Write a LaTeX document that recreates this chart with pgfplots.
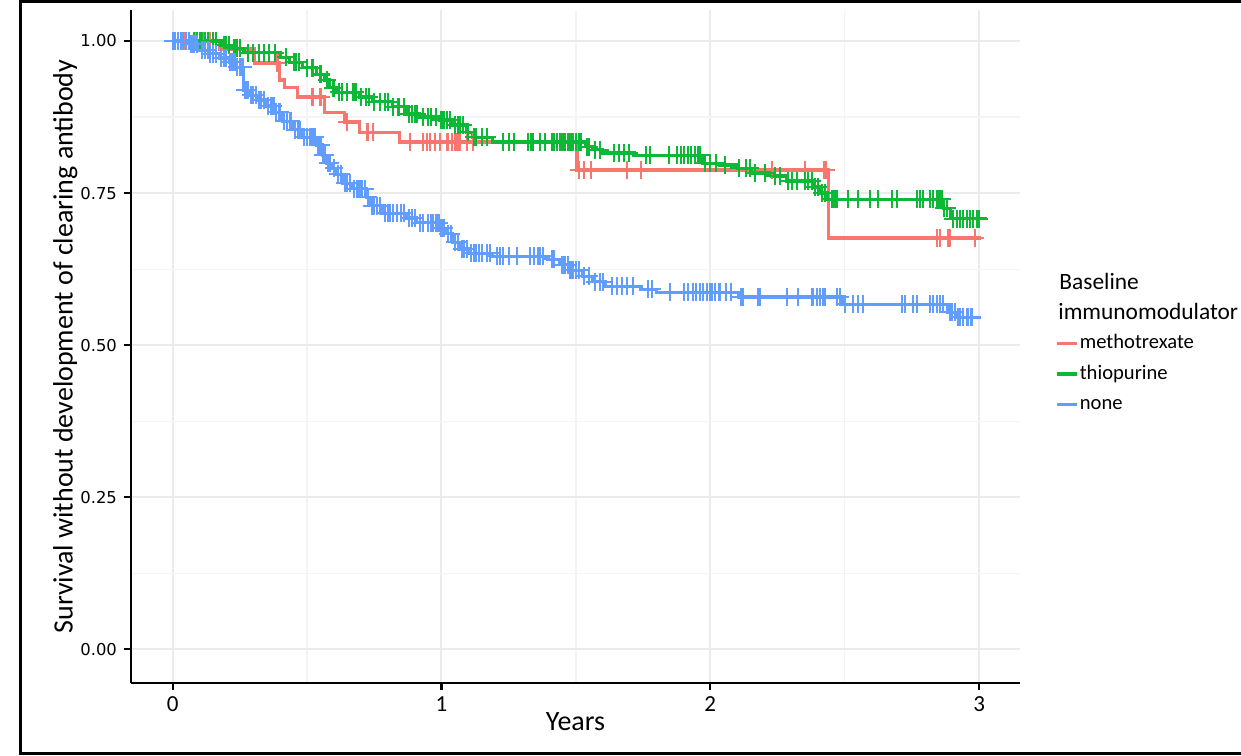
\documentclass[border=0pt]{standalone}
\usepackage{fontspec}
\setmainfont{Carlito}
\newfontfamily\djv{DejaVu Sans}
\usepackage{pgfplots}
\pgfplotsset{compat=1.18}
\definecolor{cred}{HTML}{F8766D}
\definecolor{cgreen}{HTML}{0DB837}
\definecolor{cblue}{HTML}{619CFF}
\definecolor{gmaj}{HTML}{EBEBEB}
\definecolor{gmin}{HTML}{F4F4F4}
\begin{document}
\begin{tikzpicture}
\useasboundingbox (0,0) rectangle (620.5pt,377.5pt);
\fill[white] (0,0) rectangle (620.5pt,377.5pt);
\draw[line width=1.65pt] (10.25pt,0.85pt) rectangle (660pt,376.65pt);
\begin{axis}[
  at={(65.5pt,36pt)}, anchor=south west,
  scale only axis, width=444.5pt, height=336.5pt,
  xmin=-0.155, xmax=3.152, ymin=-0.0555, ymax=1.051,
  axis x line=bottom, axis y line=left,
  axis line style={-, line width=1.4pt, black},
  xtick={0,1,2,3}, ytick={0,0.25,0.5,0.75,1},
  yticklabels={0.00,0.25,0.50,0.75,1.00},
  minor xtick={0.5,1.5,2.5}, minor ytick={0.125,0.375,0.625,0.875},
  grid=both,
  major grid style={gmaj, line width=1pt},
  minor grid style={gmin, line width=0.6pt},
  tick align=outside, major tick length=3.5pt, minor tick length=0pt,
  tick style={black, line width=1.1pt},
  /pgf/number format/assume math mode=true,
  xticklabel style={font=\fontsize{11.5}{12}\selectfont},
  yticklabel style={font=\djv\fontsize{8.2}{9}\selectfont},
  xlabel={Years},
  every axis x label/.style={at={(axis description cs:0.5,-0.058)}, anchor=center, font=\fontsize{14}{16}\selectfont},
  ylabel={Survival without development of clearing antibody},
  every axis y label/.style={at={(axis description cs:-0.074,0.5)}, anchor=center, rotate=90, font=\fontsize{14}{16}\selectfont},
  legend style={at={(axis description cs:1.0394,0.52)}, anchor=north west, draw=none, fill=none, inner sep=0pt,
    font=\fontsize{10.3}{12}\selectfont, row sep=5pt, nodes={inner sep=0.6pt, text height=7pt, text depth=2pt}},
  legend cell align=left,
  legend image code/.code={\draw[line width=1.6pt] (0pt,0pt) -- (10pt,0pt);},
]
\addplot[const plot, cred, line width=1.6pt] coordinates {
(0,1) (0.175,0.987) (0.305,0.964) (0.398,0.936) (0.417,0.923) (0.465,0.908) (0.566,0.883) (0.640,0.867) (0.696,0.850) (0.845,0.834) (1.504,0.788) (2.441,0.676) (3.007,0.676)};
\addlegendentry{methotrexate}
\addplot[const plot, cgreen, line width=1.6pt] coordinates {
(0,1) (0.18,0.993) (0.22,0.988) (0.265,0.981) (0.40,0.973) (0.435,0.965) (0.484,0.956) (0.536,0.945) (0.566,0.936) (0.584,0.923) (0.610,0.916) (0.696,0.908) (0.744,0.900) (0.819,0.892) (0.871,0.880) (0.919,0.875) (0.994,0.870) (1.042,0.862) (1.094,0.850) (1.116,0.842) (1.191,0.834) (1.537,0.826) (1.563,0.821) (1.600,0.816) (1.716,0.812) (1.972,0.799) (2.036,0.796) (2.103,0.791) (2.151,0.783) (2.229,0.778) (2.285,0.770) (2.382,0.760) (2.408,0.750) (2.434,0.740) (2.866,0.725) (2.892,0.708) (3.029,0.708)};
\addlegendentry{thiopurine}
\addplot[const plot, cblue, line width=1.6pt] coordinates {
(0,1) (0.063,0.995) (0.100,0.985) (0.138,0.979) (0.175,0.972) (0.212,0.965) (0.238,0.957) (0.264,0.919) (0.287,0.911) (0.313,0.903) (0.350,0.893) (0.380,0.883) (0.409,0.868) (0.447,0.854) (0.484,0.842) (0.536,0.829) (0.558,0.812) (0.573,0.799) (0.592,0.791) (0.610,0.781) (0.633,0.766) (0.670,0.757) (0.722,0.743) (0.733,0.729) (0.782,0.717) (0.871,0.709) (0.908,0.701) (0.994,0.692) (1.020,0.683) (1.042,0.669) (1.068,0.658) (1.105,0.651) (1.191,0.646) (1.396,0.641) (1.440,0.632) (1.474,0.623) (1.526,0.613) (1.563,0.604) (1.608,0.597) (1.742,0.592) (1.801,0.587) (2.106,0.579) (2.490,0.567) (2.884,0.554) (2.914,0.546) (3.007,0.546)};
\addlegendentry{none}
% censoring marks
\addplot[only marks, mark=+, mark size=4.5pt, cred, mark options={line width=1.05pt}, forget plot] coordinates {
(0.045,1) (0.082,1) (0.112,1) (0.138,1)
(0.39,0.964)
(0.52,0.908) (0.55,0.908)
(0.65,0.867)
(0.722,0.850) (0.726,0.850) (0.744,0.850)
(0.882,0.834) (0.93,0.834) (0.945,0.834) (0.957,0.834) (0.975,0.834) (0.993,0.834) (1.019,0.834) (1.023,0.834) (1.038,0.834) (1.049,0.834) (1.056,0.834) (1.067,0.834) (1.094,0.834) (1.116,0.834)
(1.511,0.788) (1.530,0.788) (1.556,0.788) (1.690,0.788) (1.742,0.788) (2.229,0.788) (2.352,0.788) (2.423,0.788) (2.430,0.788)
(2.843,0.676) (2.854,0.676) (2.884,0.676) (2.891,0.676) (2.985,0.676)};
\addplot[only marks, mark=+, mark size=4.5pt, cgreen, mark options={line width=1.05pt}, forget plot] coordinates {
(0.0,1) (0.02,1) (0.04,1) (0.05,1) (0.06,1) (0.08,1) (0.09,1) (0.10,1) (0.11,1) (0.12,1) (0.13,1) (0.15,1) (0.16,1)
(0.19,0.993) (0.20,0.993) (0.21,0.993)
(0.23,0.988) (0.24,0.988) (0.25,0.988)
(0.28,0.981) (0.30,0.981) (0.32,0.981) (0.34,0.981) (0.36,0.981) (0.38,0.981)
(0.42,0.973)
(0.45,0.965) (0.46,0.965) (0.47,0.965)
(0.50,0.956) (0.52,0.956)
(0.55,0.945)
(0.575,0.936)
(0.595,0.923) (0.60,0.923)
(0.62,0.916) (0.63,0.916) (0.65,0.916) (0.67,0.916) (0.68,0.916)
(0.70,0.908) (0.72,0.908) (0.73,0.908)
(0.75,0.900) (0.77,0.900) (0.79,0.900) (0.80,0.900)
(0.82,0.892) (0.84,0.892) (0.86,0.892)
(0.88,0.880) (0.89,0.880) (0.90,0.880) (0.91,0.880)
(0.93,0.875) (0.95,0.875) (0.96,0.875) (0.98,0.875)
(1.0,0.870) (1.01,0.870) (1.02,0.870) (1.03,0.870)
(1.05,0.862) (1.06,0.862) (1.07,0.862) (1.08,0.862)
(1.10,0.850)
(1.12,0.842) (1.13,0.842) (1.15,0.842) (1.17,0.842)
(1.228,0.834) (1.250,0.834) (1.269,0.834) (1.321,0.834) (1.332,0.834) (1.340,0.834) (1.366,0.834) (1.384,0.834) (1.41,0.834) (1.42,0.834) (1.43,0.834) (1.44,0.834) (1.45,0.834) (1.46,0.834) (1.47,0.834) (1.48,0.834) (1.49,0.834) (1.50,0.834) (1.51,0.834) (1.52,0.834)
(1.54,0.826) (1.55,0.826)
(1.57,0.821) (1.59,0.821)
(1.641,0.816) (1.66,0.816) (1.678,0.816) (1.697,0.816)
(1.760,0.812) (1.775,0.812) (1.846,0.812) (1.876,0.812) (1.891,0.812) (1.902,0.812) (1.917,0.812) (1.928,0.812) (1.943,0.812) (1.954,0.812) (1.961,0.812)
(1.98,0.799) (2.0,0.799) (2.02,0.799)
(2.056,0.796)
(2.106,0.791) (2.132,0.791) (2.147,0.791)
(2.166,0.783) (2.203,0.783)
(2.24,0.778) (2.26,0.778)
(2.289,0.770) (2.304,0.770) (2.322,0.770) (2.352,0.770) (2.363,0.770) (2.378,0.770)
(2.39,0.760) (2.40,0.760)
(2.415,0.750) (2.425,0.750)
(2.451,0.740) (2.456,0.740) (2.464,0.740) (2.471,0.740) (2.512,0.740) (2.549,0.740) (2.594,0.740) (2.624,0.740) (2.676,0.740) (2.694,0.740) (2.769,0.740) (2.780,0.740) (2.791,0.740) (2.817,0.740) (2.828,0.740) (2.843,0.740) (2.847,0.740) (2.854,0.740) (2.862,0.740)
(2.87,0.725) (2.88,0.725)
(2.903,0.708) (2.918,0.708) (2.929,0.708) (2.94,0.708) (2.955,0.708) (2.966,0.708) (2.977,0.708) (2.992,0.708) (3.0,0.708)};
\addplot[only marks, mark=+, mark size=4.5pt, cblue, mark options={line width=1.05pt}, forget plot] coordinates {
(0.0,1) (0.01,1) (0.02,1) (0.03,1) (0.04,1) (0.05,1) (0.06,1)
(0.07,0.995) (0.08,0.995) (0.09,0.995)
(0.11,0.985) (0.12,0.985) (0.13,0.985)
(0.14,0.979) (0.15,0.979) (0.16,0.979)
(0.18,0.972) (0.19,0.972) (0.20,0.972)
(0.215,0.965) (0.225,0.965) (0.23,0.965)
(0.24,0.957) (0.25,0.957) (0.255,0.957) (0.26,0.957)
(0.27,0.919) (0.275,0.919) (0.28,0.919)
(0.29,0.911) (0.30,0.911) (0.31,0.911)
(0.32,0.903) (0.33,0.903) (0.34,0.903)
(0.355,0.893) (0.365,0.893) (0.375,0.893)
(0.385,0.883) (0.395,0.883) (0.40,0.883)
(0.415,0.868) (0.425,0.868) (0.435,0.868) (0.44,0.868)
(0.455,0.854) (0.465,0.854) (0.475,0.854)
(0.49,0.842) (0.50,0.842) (0.51,0.842) (0.52,0.842) (0.53,0.842)
(0.54,0.829) (0.55,0.829)
(0.56,0.812) (0.565,0.812)
(0.578,0.799) (0.585,0.799)
(0.60,0.791)
(0.615,0.781) (0.625,0.781)
(0.64,0.766) (0.65,0.766) (0.66,0.766)
(0.675,0.757) (0.685,0.757) (0.695,0.757) (0.705,0.757) (0.715,0.757)
(0.725,0.743)
(0.74,0.729) (0.75,0.729) (0.76,0.729) (0.77,0.729)
(0.79,0.717) (0.80,0.717) (0.81,0.717) (0.82,0.717) (0.835,0.717) (0.85,0.717) (0.86,0.717)
(0.88,0.709) (0.89,0.709) (0.90,0.709)
(0.92,0.701) (0.93,0.701) (0.95,0.701) (0.96,0.701) (0.97,0.701) (0.98,0.701) (0.985,0.701) (0.99,0.701)
(1.0,0.692) (1.01,0.692)
(1.025,0.683) (1.035,0.683)
(1.05,0.669) (1.06,0.669)
(1.075,0.658) (1.085,0.658) (1.095,0.658)
(1.11,0.651) (1.12,0.651) (1.13,0.651) (1.14,0.651) (1.15,0.651) (1.17,0.651) (1.18,0.651)
(1.206,0.646) (1.217,0.646) (1.228,0.646) (1.25,0.646) (1.28,0.646) (1.329,0.646) (1.344,0.646) (1.358,0.646) (1.366,0.646) (1.377,0.646)
(1.41,0.641) (1.42,0.641)
(1.45,0.632) (1.46,0.632) (1.47,0.632)
(1.48,0.623) (1.49,0.623) (1.50,0.623) (1.51,0.623)
(1.53,0.613) (1.55,0.613)
(1.57,0.604) (1.59,0.604) (1.60,0.604)
(1.634,0.597) (1.652,0.597) (1.671,0.597) (1.69,0.597) (1.712,0.597)
(1.768,0.592) (1.783,0.592)
(1.850,0.587) (1.902,0.587) (1.917,0.587) (1.935,0.587) (1.946,0.587) (1.961,0.587) (1.972,0.587) (1.987,0.587) (1.998,0.587) (2.006,0.587) (2.017,0.587) (2.032,0.587) (2.036,0.587) (2.058,0.587) (2.077,0.587)
(2.114,0.579) (2.121,0.579) (2.177,0.579) (2.185,0.579) (2.285,0.579) (2.326,0.579) (2.378,0.579) (2.382,0.579) (2.397,0.579) (2.408,0.579) (2.419,0.579) (2.426,0.579) (2.471,0.579) (2.482,0.579)
(2.501,0.567) (2.531,0.567) (2.549,0.567) (2.568,0.567) (2.713,0.567) (2.724,0.567) (2.754,0.567) (2.769,0.567) (2.817,0.567) (2.828,0.567) (2.843,0.567) (2.854,0.567) (2.866,0.567)
(2.89,0.554) (2.90,0.554) (2.91,0.554)
(2.92,0.546) (2.93,0.546) (2.94,0.546) (2.955,0.546) (2.96,0.546) (2.97,0.546) (2.975,0.546)};
\end{axis}
\node[anchor=base west, inner sep=0pt, font=\fontsize{11.7}{14}\selectfont] at (529.5pt,232.5pt) {Baseline};
\node[anchor=base west, inner sep=0pt, font=\fontsize{11.7}{14}\selectfont] at (529pt,217.5pt) {immunomodulator};
\end{tikzpicture}
\end{document}
